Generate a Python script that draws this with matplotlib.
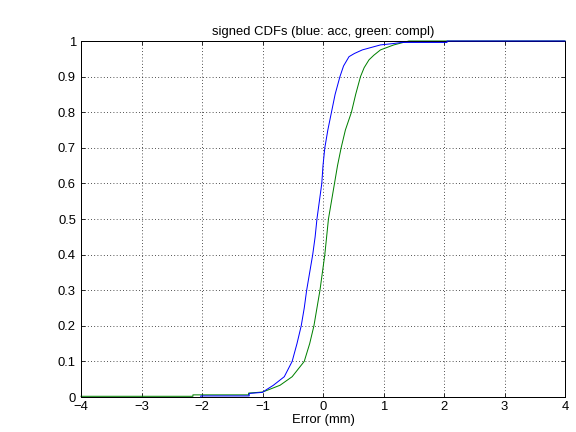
import matplotlib
matplotlib.use("Agg")
import matplotlib.pyplot as plt

plt.rcParams['font.family'] = ['Liberation Sans', 'DejaVu Sans']
plt.rcParams['axes.unicode_minus'] = True

blue_x = [-2.02, -2.02, -1.22, -1.22, -1.0, -0.95, -0.82, -0.64, -0.51, -0.43, -0.36,
          -0.31, -0.27, -0.22, -0.17, -0.13, -0.10, -0.06, -0.02, 0.0, 0.03, 0.08,
          0.14, 0.20, 0.28, 0.34, 0.43, 0.52, 0.65, 0.95, 1.17, 1.3, 2.05, 2.05, 4.0]
blue_y = [0.0, 0.003, 0.003, 0.01, 0.013, 0.019, 0.033, 0.057, 0.1, 0.15, 0.2,
          0.25, 0.3, 0.35, 0.4, 0.45, 0.5, 0.55, 0.6, 0.65, 0.7, 0.75,
          0.8, 0.85, 0.9, 0.93, 0.956, 0.965, 0.975, 0.989, 0.993, 0.996, 0.996, 1.0, 1.0]

green_x = [-4.0, -2.15, -2.15, -1.23, -1.23, -1.0, -0.92, -0.71, -0.51, -0.31, -0.22,
           -0.15, -0.10, -0.05, -0.01, 0.03, 0.06, 0.09, 0.14, 0.19, 0.24, 0.30,
           0.37, 0.47, 0.54, 0.62, 0.68, 0.76, 0.84, 0.95, 1.17, 1.42, 4.0]
green_y = [0.002, 0.002, 0.006, 0.006, 0.011, 0.014, 0.019, 0.033, 0.057, 0.1, 0.15,
           0.2, 0.25, 0.3, 0.35, 0.4, 0.45, 0.5, 0.55, 0.6, 0.65, 0.7,
           0.75, 0.8, 0.85, 0.9, 0.925, 0.947, 0.96, 0.975, 0.989, 1.0, 1.0]

xticks = [-4, -3, -2, -1, 0, 1, 2, 3, 4]
yticks = [0, 0.1, 0.2, 0.3, 0.4, 0.5, 0.6, 0.7, 0.8, 0.9, 1]
ytick_labels = ['0', '0.1', '0.2', '0.3', '0.4', '0.5', '0.6', '0.7', '0.8', '0.9', '1']

fig = plt.figure(figsize=(8, 6), dpi=72)
ax = fig.add_axes([81/576, 35/432, 484/576, 356/432])

ax.plot(blue_x, blue_y, color='#0000ff', linewidth=1.0, zorder=3, clip_on=False)
ax.plot(green_x, green_y, color='#008000', linewidth=1.0, zorder=2, clip_on=False)

ax.set_xlim(-4, 4)
ax.set_ylim(0, 1)
ax.set_xticks(xticks)
ax.set_yticks(yticks)
ax.set_yticklabels(ytick_labels)
ax.grid(True, color='black', linestyle=(0, (1, 3)), linewidth=0.8)
ax.tick_params(direction='in', top=True, right=True, length=4, labelsize=13)
ax.tick_params(axis='x', pad=4)
ax.tick_params(axis='y', pad=5)
for s in ax.spines.values():
    s.set_linewidth(1.0)
ax.set_title('signed CDFs (blue: acc, green: compl)', fontsize=13, pad=6)
ax.set_xlabel('Error (mm)', fontsize=13, labelpad=1)

fig.savefig('out.png', dpi=72)
